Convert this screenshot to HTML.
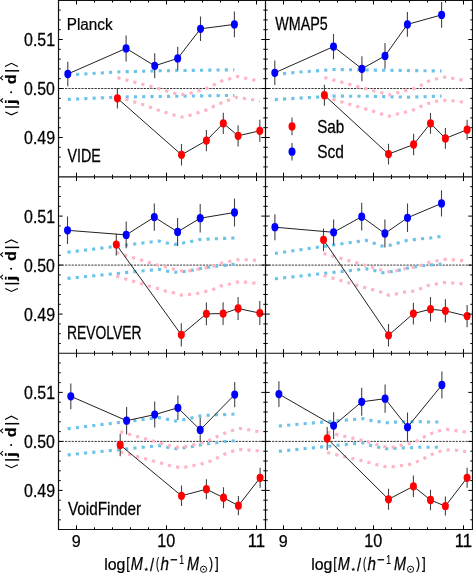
<!DOCTYPE html>
<html><head><meta charset="utf-8"><style>html,body{margin:0;padding:0;background:#fff;} svg{will-change:transform;}</style></head>
<body><svg width="473" height="574" viewBox="0 0 473 574" style="display:block"><rect width="473" height="574" fill="#fff"/><clipPath id="clip00"><rect x="58.5" y="0.3" width="207.0" height="176.54999999999998"/></clipPath><g clip-path="url(#clip00)"><line x1="58.5" y1="88.5" x2="265.5" y2="88.5" stroke="#111" stroke-width="0.85" stroke-dasharray="2.2 1.08"/><polyline points="67.80,75.00 120.00,71.80 160.00,70.80 234.40,69.80" fill="none" stroke="#6cc3ea" stroke-width="3.12" stroke-dasharray="3.12 5.15" stroke-linecap="butt" stroke-linejoin="round"/><polyline points="67.80,99.40 120.00,97.00 160.00,96.50 234.40,95.40" fill="none" stroke="#6cc3ea" stroke-width="3.12" stroke-dasharray="3.12 5.15" stroke-linecap="butt" stroke-linejoin="round"/><polyline points="117.40,77.60 142.50,84.30 158.60,88.50 174.20,93.20 182.30,94.50 190.30,93.20 206.60,88.50 221.40,81.10 237.30,76.50 252.70,79.70 259.80,81.30" fill="none" stroke="#ffb3c3" stroke-width="3.12" stroke-dasharray="3.12 5.15" stroke-linecap="butt" stroke-linejoin="round"/><polyline points="117.40,97.00 126.60,99.60 142.50,104.40 158.00,110.10 173.80,115.00 181.90,117.10 189.70,115.40 205.50,110.30 220.30,103.30 236.20,97.20 251.60,99.50 259.80,101.30" fill="none" stroke="#ffb3c3" stroke-width="3.12" stroke-dasharray="3.12 5.15" stroke-linecap="butt" stroke-linejoin="round"/><polyline points="117.40,98.30 181.50,154.80 206.40,140.60 223.30,123.30 238.10,135.80 259.80,130.80" fill="none" stroke="#222" stroke-width="1.0"/><line x1="117.4" y1="88.1" x2="117.4" y2="108.5" stroke="#444" stroke-width="1.1"/><line x1="181.5" y1="144.0" x2="181.5" y2="165.60000000000002" stroke="#444" stroke-width="1.1"/><line x1="206.4" y1="130.0" x2="206.4" y2="151.2" stroke="#444" stroke-width="1.1"/><line x1="223.3" y1="112.7" x2="223.3" y2="133.9" stroke="#444" stroke-width="1.1"/><line x1="238.1" y1="125.20000000000002" x2="238.1" y2="146.4" stroke="#444" stroke-width="1.1"/><line x1="259.8" y1="119.80000000000001" x2="259.8" y2="141.8" stroke="#444" stroke-width="1.1"/><polyline points="67.80,74.00 126.10,48.40 154.70,65.80 177.70,58.40 200.50,28.80 234.40,24.40" fill="none" stroke="#222" stroke-width="1.0"/><line x1="67.8" y1="61.8" x2="67.8" y2="86.2" stroke="#444" stroke-width="1.1"/><line x1="126.1" y1="35.4" x2="126.1" y2="61.4" stroke="#444" stroke-width="1.1"/><line x1="154.7" y1="53.3" x2="154.7" y2="78.3" stroke="#444" stroke-width="1.1"/><line x1="177.7" y1="46.7" x2="177.7" y2="70.1" stroke="#444" stroke-width="1.1"/><line x1="200.5" y1="16.5" x2="200.5" y2="41.1" stroke="#444" stroke-width="1.1"/><line x1="234.4" y1="11.599999999999998" x2="234.4" y2="37.2" stroke="#444" stroke-width="1.1"/><ellipse cx="117.4" cy="98.3" rx="3.5" ry="4.15" fill="#ff0000"/><ellipse cx="181.5" cy="154.8" rx="3.5" ry="4.15" fill="#ff0000"/><ellipse cx="206.4" cy="140.6" rx="3.5" ry="4.15" fill="#ff0000"/><ellipse cx="223.3" cy="123.3" rx="3.5" ry="4.15" fill="#ff0000"/><ellipse cx="238.1" cy="135.8" rx="3.5" ry="4.15" fill="#ff0000"/><ellipse cx="259.8" cy="130.8" rx="3.5" ry="4.15" fill="#ff0000"/><ellipse cx="67.8" cy="74.0" rx="3.5" ry="4.15" fill="#0000ff"/><ellipse cx="126.1" cy="48.4" rx="3.5" ry="4.15" fill="#0000ff"/><ellipse cx="154.7" cy="65.8" rx="3.5" ry="4.15" fill="#0000ff"/><ellipse cx="177.7" cy="58.4" rx="3.5" ry="4.15" fill="#0000ff"/><ellipse cx="200.5" cy="28.8" rx="3.5" ry="4.15" fill="#0000ff"/><ellipse cx="234.4" cy="24.4" rx="3.5" ry="4.15" fill="#0000ff"/></g><path d="M76.50,176.85v-4.2M76.50,0.3v4.2M94.50,176.85v-2.2M94.50,0.3v2.2M112.50,176.85v-2.2M112.50,0.3v2.2M130.50,176.85v-2.2M130.50,0.3v2.2M148.50,176.85v-2.2M148.50,0.3v2.2M166.50,176.85v-4.2M166.50,0.3v4.2M184.50,176.85v-2.2M184.50,0.3v2.2M202.50,176.85v-2.2M202.50,0.3v2.2M220.50,176.85v-2.2M220.50,0.3v2.2M238.50,176.85v-2.2M238.50,0.3v2.2M256.50,176.85v-4.2M256.50,0.3v4.2M58.5,10.10h2.2M265.5,10.10h-2.2M58.5,19.90h2.2M265.5,19.90h-2.2M58.5,29.70h2.2M265.5,29.70h-2.2M58.5,39.50h4.2M265.5,39.50h-4.2M58.5,49.30h2.2M265.5,49.30h-2.2M58.5,59.10h2.2M265.5,59.10h-2.2M58.5,68.90h2.2M265.5,68.90h-2.2M58.5,78.70h2.2M265.5,78.70h-2.2M58.5,88.50h4.2M265.5,88.50h-4.2M58.5,98.30h2.2M265.5,98.30h-2.2M58.5,108.10h2.2M265.5,108.10h-2.2M58.5,117.90h2.2M265.5,117.90h-2.2M58.5,127.70h2.2M265.5,127.70h-2.2M58.5,137.50h4.2M265.5,137.50h-4.2M58.5,147.30h2.2M265.5,147.30h-2.2M58.5,157.10h2.2M265.5,157.10h-2.2M58.5,166.90h2.2M265.5,166.90h-2.2" stroke="#000" stroke-width="1.0" fill="none"/><clipPath id="clip01"><rect x="265.5" y="0.3" width="207.0" height="176.54999999999998"/></clipPath><g clip-path="url(#clip01)"><line x1="265.5" y1="88.5" x2="472.5" y2="88.5" stroke="#111" stroke-width="0.85" stroke-dasharray="2.2 1.08"/><polyline points="274.80,74.50 300.00,72.00 334.00,69.50 368.00,70.00 441.60,71.00" fill="none" stroke="#6cc3ea" stroke-width="3.12" stroke-dasharray="3.12 5.15" stroke-linecap="butt" stroke-linejoin="round"/><polyline points="274.80,99.60 333.20,96.10 368.30,96.30 408.40,97.20 441.60,96.10" fill="none" stroke="#6cc3ea" stroke-width="3.12" stroke-dasharray="3.12 5.15" stroke-linecap="butt" stroke-linejoin="round"/><polyline points="324.40,77.50 366.10,88.80 373.70,90.80 381.40,92.70 389.70,95.00 397.60,92.70 405.60,90.80 413.40,88.80 420.90,85.30 428.50,81.30 436.20,79.00 444.50,77.10 452.40,78.30 460.40,79.70 467.10,81.00" fill="none" stroke="#ffb3c3" stroke-width="3.12" stroke-dasharray="3.12 5.15" stroke-linecap="butt" stroke-linejoin="round"/><polyline points="324.40,97.50 333.60,99.60 366.10,109.10 373.70,111.40 381.40,113.90 389.00,116.20 397.60,113.90 405.60,112.10 413.40,109.80 420.90,106.40 428.50,103.40 436.20,101.30 444.50,100.20 452.40,100.70 460.40,101.80 467.10,102.50" fill="none" stroke="#ffb3c3" stroke-width="3.12" stroke-dasharray="3.12 5.15" stroke-linecap="butt" stroke-linejoin="round"/><polyline points="324.40,95.20 388.50,154.10 413.60,144.50 430.50,123.30 445.40,138.40 467.10,129.70" fill="none" stroke="#222" stroke-width="1.0"/><line x1="324.4" y1="84.7" x2="324.4" y2="105.7" stroke="#444" stroke-width="1.1"/><line x1="388.5" y1="143.79999999999998" x2="388.5" y2="164.4" stroke="#444" stroke-width="1.1"/><line x1="413.6" y1="133.8" x2="413.6" y2="155.2" stroke="#444" stroke-width="1.1"/><line x1="430.5" y1="112.89999999999999" x2="430.5" y2="133.7" stroke="#444" stroke-width="1.1"/><line x1="445.4" y1="128.1" x2="445.4" y2="148.70000000000002" stroke="#444" stroke-width="1.1"/><line x1="467.1" y1="119.69999999999999" x2="467.1" y2="139.7" stroke="#444" stroke-width="1.1"/><polyline points="274.80,72.80 333.50,46.60 361.90,68.80 385.00,55.90 407.40,24.40 441.60,14.90" fill="none" stroke="#222" stroke-width="1.0"/><line x1="274.8" y1="60.5" x2="274.8" y2="85.1" stroke="#444" stroke-width="1.1"/><line x1="333.5" y1="34.0" x2="333.5" y2="59.2" stroke="#444" stroke-width="1.1"/><line x1="361.9" y1="56.3" x2="361.9" y2="81.3" stroke="#444" stroke-width="1.1"/><line x1="385.0" y1="43.099999999999994" x2="385.0" y2="68.7" stroke="#444" stroke-width="1.1"/><line x1="407.4" y1="11.999999999999998" x2="407.4" y2="36.8" stroke="#444" stroke-width="1.1"/><line x1="441.6" y1="2.0" x2="441.6" y2="27.8" stroke="#444" stroke-width="1.1"/><ellipse cx="324.4" cy="95.2" rx="3.5" ry="4.15" fill="#ff0000"/><ellipse cx="388.5" cy="154.1" rx="3.5" ry="4.15" fill="#ff0000"/><ellipse cx="413.6" cy="144.5" rx="3.5" ry="4.15" fill="#ff0000"/><ellipse cx="430.5" cy="123.3" rx="3.5" ry="4.15" fill="#ff0000"/><ellipse cx="445.4" cy="138.4" rx="3.5" ry="4.15" fill="#ff0000"/><ellipse cx="467.1" cy="129.7" rx="3.5" ry="4.15" fill="#ff0000"/><ellipse cx="274.8" cy="72.8" rx="3.5" ry="4.15" fill="#0000ff"/><ellipse cx="333.5" cy="46.6" rx="3.5" ry="4.15" fill="#0000ff"/><ellipse cx="361.9" cy="68.8" rx="3.5" ry="4.15" fill="#0000ff"/><ellipse cx="385.0" cy="55.9" rx="3.5" ry="4.15" fill="#0000ff"/><ellipse cx="407.4" cy="24.4" rx="3.5" ry="4.15" fill="#0000ff"/><ellipse cx="441.6" cy="14.9" rx="3.5" ry="4.15" fill="#0000ff"/></g><path d="M283.50,176.85v-4.2M283.50,0.3v4.2M301.50,176.85v-2.2M301.50,0.3v2.2M319.50,176.85v-2.2M319.50,0.3v2.2M337.50,176.85v-2.2M337.50,0.3v2.2M355.50,176.85v-2.2M355.50,0.3v2.2M373.50,176.85v-4.2M373.50,0.3v4.2M391.50,176.85v-2.2M391.50,0.3v2.2M409.50,176.85v-2.2M409.50,0.3v2.2M427.50,176.85v-2.2M427.50,0.3v2.2M445.50,176.85v-2.2M445.50,0.3v2.2M463.50,176.85v-4.2M463.50,0.3v4.2M265.5,10.10h2.2M472.5,10.10h-2.2M265.5,19.90h2.2M472.5,19.90h-2.2M265.5,29.70h2.2M472.5,29.70h-2.2M265.5,39.50h4.2M472.5,39.50h-4.2M265.5,49.30h2.2M472.5,49.30h-2.2M265.5,59.10h2.2M472.5,59.10h-2.2M265.5,68.90h2.2M472.5,68.90h-2.2M265.5,78.70h2.2M472.5,78.70h-2.2M265.5,88.50h4.2M472.5,88.50h-4.2M265.5,98.30h2.2M472.5,98.30h-2.2M265.5,108.10h2.2M472.5,108.10h-2.2M265.5,117.90h2.2M472.5,117.90h-2.2M265.5,127.70h2.2M472.5,127.70h-2.2M265.5,137.50h4.2M472.5,137.50h-4.2M265.5,147.30h2.2M472.5,147.30h-2.2M265.5,157.10h2.2M472.5,157.10h-2.2M265.5,166.90h2.2M472.5,166.90h-2.2" stroke="#000" stroke-width="1.0" fill="none"/><clipPath id="clip10"><rect x="58.5" y="176.85" width="207.0" height="176.4"/></clipPath><g clip-path="url(#clip10)"><line x1="58.5" y1="265.1" x2="265.5" y2="265.1" stroke="#111" stroke-width="0.85" stroke-dasharray="2.2 1.08"/><polyline points="67.50,252.30 159.10,241.00 167.10,243.00 175.10,244.40 183.10,243.00 191.10,241.40 199.10,239.60 208.20,239.10 216.20,238.70 224.20,238.40 234.50,238.00" fill="none" stroke="#6cc3ea" stroke-width="3.12" stroke-dasharray="3.12 5.15" stroke-linecap="butt" stroke-linejoin="round"/><polyline points="67.50,278.40 159.10,269.30 167.10,271.10 175.10,272.20 183.10,271.60 191.10,270.40 199.10,268.80 208.20,267.20 216.20,266.10 224.20,265.40 234.50,264.20" fill="none" stroke="#6cc3ea" stroke-width="3.12" stroke-dasharray="3.12 5.15" stroke-linecap="butt" stroke-linejoin="round"/><polyline points="116.30,252.60 158.00,265.20 166.00,267.00 174.00,269.30 182.00,271.10 190.00,270.60 198.00,269.30 206.00,267.70 214.00,266.10 221.50,263.10 229.20,261.50 237.50,259.70 245.40,259.70 253.90,260.10 259.80,260.50" fill="none" stroke="#ffb3c3" stroke-width="3.12" stroke-dasharray="3.12 5.15" stroke-linecap="butt" stroke-linejoin="round"/><polyline points="116.30,276.20 157.00,288.30 166.00,291.20 173.50,292.80 181.30,295.10 189.50,294.40 197.30,293.50 205.50,291.60 213.30,289.40 220.80,285.90 228.80,284.30 236.80,282.10 245.40,282.10 253.90,283.00 259.80,283.50" fill="none" stroke="#ffb3c3" stroke-width="3.12" stroke-dasharray="3.12 5.15" stroke-linecap="butt" stroke-linejoin="round"/><polyline points="116.30,244.60 181.30,334.80 206.40,313.80 223.10,313.60 238.10,308.50 259.80,313.10" fill="none" stroke="#222" stroke-width="1.0"/><line x1="116.3" y1="233.79999999999998" x2="116.3" y2="255.4" stroke="#444" stroke-width="1.1"/><line x1="181.3" y1="323.2" x2="181.3" y2="346.40000000000003" stroke="#444" stroke-width="1.1"/><line x1="206.4" y1="302.40000000000003" x2="206.4" y2="325.2" stroke="#444" stroke-width="1.1"/><line x1="223.1" y1="302.20000000000005" x2="223.1" y2="325.0" stroke="#444" stroke-width="1.1"/><line x1="238.1" y1="296.9" x2="238.1" y2="320.1" stroke="#444" stroke-width="1.1"/><line x1="259.8" y1="301.1" x2="259.8" y2="325.1" stroke="#444" stroke-width="1.1"/><polyline points="67.50,230.30 126.20,234.90 154.30,217.10 177.60,231.90 200.20,218.20 234.50,212.50" fill="none" stroke="#222" stroke-width="1.0"/><line x1="67.5" y1="216.60000000000002" x2="67.5" y2="244.0" stroke="#444" stroke-width="1.1"/><line x1="126.2" y1="221.5" x2="126.2" y2="248.3" stroke="#444" stroke-width="1.1"/><line x1="154.3" y1="203.4" x2="154.3" y2="230.79999999999998" stroke="#444" stroke-width="1.1"/><line x1="177.6" y1="217.9" x2="177.6" y2="245.9" stroke="#444" stroke-width="1.1"/><line x1="200.2" y1="203.89999999999998" x2="200.2" y2="232.5" stroke="#444" stroke-width="1.1"/><line x1="234.5" y1="198.5" x2="234.5" y2="226.5" stroke="#444" stroke-width="1.1"/><ellipse cx="116.3" cy="244.6" rx="3.5" ry="4.15" fill="#ff0000"/><ellipse cx="181.3" cy="334.8" rx="3.5" ry="4.15" fill="#ff0000"/><ellipse cx="206.4" cy="313.8" rx="3.5" ry="4.15" fill="#ff0000"/><ellipse cx="223.1" cy="313.6" rx="3.5" ry="4.15" fill="#ff0000"/><ellipse cx="238.1" cy="308.5" rx="3.5" ry="4.15" fill="#ff0000"/><ellipse cx="259.8" cy="313.1" rx="3.5" ry="4.15" fill="#ff0000"/><ellipse cx="67.5" cy="230.3" rx="3.5" ry="4.15" fill="#0000ff"/><ellipse cx="126.2" cy="234.9" rx="3.5" ry="4.15" fill="#0000ff"/><ellipse cx="154.3" cy="217.1" rx="3.5" ry="4.15" fill="#0000ff"/><ellipse cx="177.6" cy="231.9" rx="3.5" ry="4.15" fill="#0000ff"/><ellipse cx="200.2" cy="218.2" rx="3.5" ry="4.15" fill="#0000ff"/><ellipse cx="234.5" cy="212.5" rx="3.5" ry="4.15" fill="#0000ff"/></g><path d="M76.50,353.25v-4.2M76.50,176.85v4.2M94.50,353.25v-2.2M94.50,176.85v2.2M112.50,353.25v-2.2M112.50,176.85v2.2M130.50,353.25v-2.2M130.50,176.85v2.2M148.50,353.25v-2.2M148.50,176.85v2.2M166.50,353.25v-4.2M166.50,176.85v4.2M184.50,353.25v-2.2M184.50,176.85v2.2M202.50,353.25v-2.2M202.50,176.85v2.2M220.50,353.25v-2.2M220.50,176.85v2.2M238.50,353.25v-2.2M238.50,176.85v2.2M256.50,353.25v-4.2M256.50,176.85v4.2M58.5,186.70h2.2M265.5,186.70h-2.2M58.5,196.50h2.2M265.5,196.50h-2.2M58.5,206.30h2.2M265.5,206.30h-2.2M58.5,216.10h4.2M265.5,216.10h-4.2M58.5,225.90h2.2M265.5,225.90h-2.2M58.5,235.70h2.2M265.5,235.70h-2.2M58.5,245.50h2.2M265.5,245.50h-2.2M58.5,255.30h2.2M265.5,255.30h-2.2M58.5,265.10h4.2M265.5,265.10h-4.2M58.5,274.90h2.2M265.5,274.90h-2.2M58.5,284.70h2.2M265.5,284.70h-2.2M58.5,294.50h2.2M265.5,294.50h-2.2M58.5,304.30h2.2M265.5,304.30h-2.2M58.5,314.10h4.2M265.5,314.10h-4.2M58.5,323.90h2.2M265.5,323.90h-2.2M58.5,333.70h2.2M265.5,333.70h-2.2M58.5,343.50h2.2M265.5,343.50h-2.2" stroke="#000" stroke-width="1.0" fill="none"/><clipPath id="clip11"><rect x="265.5" y="176.85" width="207.0" height="176.4"/></clipPath><g clip-path="url(#clip11)"><line x1="265.5" y1="265.1" x2="472.5" y2="265.1" stroke="#111" stroke-width="0.85" stroke-dasharray="2.2 1.08"/><polyline points="274.90,253.40 366.10,240.30 374.10,243.20 381.40,246.00 389.00,245.50 397.00,243.20 405.60,240.70 413.40,239.60 421.60,238.70 430.10,238.00 438.10,236.80 441.50,236.50" fill="none" stroke="#6cc3ea" stroke-width="3.12" stroke-dasharray="3.12 5.15" stroke-linecap="butt" stroke-linejoin="round"/><polyline points="274.90,278.80 366.10,268.80 374.10,270.40 382.10,272.70 390.10,271.80 398.10,270.40 406.10,268.40 414.10,267.00 422.10,265.80 431.20,264.90 441.50,264.00" fill="none" stroke="#6cc3ea" stroke-width="3.12" stroke-dasharray="3.12 5.15" stroke-linecap="butt" stroke-linejoin="round"/><polyline points="323.50,253.50 365.00,265.20 373.00,267.70 381.00,270.00 389.00,271.80 397.00,270.60 405.00,268.80 413.00,267.20 421.00,265.40 428.90,262.40 436.90,260.80 444.50,259.20 452.40,259.70 460.90,260.40 467.10,261.00" fill="none" stroke="#ffb3c3" stroke-width="3.12" stroke-dasharray="3.12 5.15" stroke-linecap="butt" stroke-linejoin="round"/><polyline points="323.50,275.50 365.00,287.60 373.00,289.80 381.00,292.10 388.30,295.10 396.50,293.90 404.30,292.10 412.50,291.20 420.30,288.70 427.80,285.50 435.80,284.10 443.80,282.50 452.40,283.00 460.90,283.70 467.10,284.20" fill="none" stroke="#ffb3c3" stroke-width="3.12" stroke-dasharray="3.12 5.15" stroke-linecap="butt" stroke-linejoin="round"/><polyline points="323.50,239.80 388.50,335.30 413.40,313.60 430.50,309.20 445.40,310.80 467.10,316.10" fill="none" stroke="#222" stroke-width="1.0"/><line x1="323.5" y1="228.4" x2="323.5" y2="251.20000000000002" stroke="#444" stroke-width="1.1"/><line x1="388.5" y1="324.1" x2="388.5" y2="346.5" stroke="#444" stroke-width="1.1"/><line x1="413.4" y1="302.70000000000005" x2="413.4" y2="324.5" stroke="#444" stroke-width="1.1"/><line x1="430.5" y1="296.9" x2="430.5" y2="321.5" stroke="#444" stroke-width="1.1"/><line x1="445.4" y1="299.2" x2="445.4" y2="322.40000000000003" stroke="#444" stroke-width="1.1"/><line x1="467.1" y1="304.90000000000003" x2="467.1" y2="327.3" stroke="#444" stroke-width="1.1"/><polyline points="274.90,227.20 333.60,232.30 361.70,216.70 384.90,233.50 407.50,217.80 441.50,203.40" fill="none" stroke="#222" stroke-width="1.0"/><line x1="274.9" y1="214.2" x2="274.9" y2="240.2" stroke="#444" stroke-width="1.1"/><line x1="333.6" y1="219.60000000000002" x2="333.6" y2="245.0" stroke="#444" stroke-width="1.1"/><line x1="361.7" y1="202.79999999999998" x2="361.7" y2="230.6" stroke="#444" stroke-width="1.1"/><line x1="384.9" y1="219.6" x2="384.9" y2="247.4" stroke="#444" stroke-width="1.1"/><line x1="407.5" y1="203.60000000000002" x2="407.5" y2="232.0" stroke="#444" stroke-width="1.1"/><line x1="441.5" y1="190.20000000000002" x2="441.5" y2="216.6" stroke="#444" stroke-width="1.1"/><ellipse cx="323.5" cy="239.8" rx="3.5" ry="4.15" fill="#ff0000"/><ellipse cx="388.5" cy="335.3" rx="3.5" ry="4.15" fill="#ff0000"/><ellipse cx="413.4" cy="313.6" rx="3.5" ry="4.15" fill="#ff0000"/><ellipse cx="430.5" cy="309.2" rx="3.5" ry="4.15" fill="#ff0000"/><ellipse cx="445.4" cy="310.8" rx="3.5" ry="4.15" fill="#ff0000"/><ellipse cx="467.1" cy="316.1" rx="3.5" ry="4.15" fill="#ff0000"/><ellipse cx="274.9" cy="227.2" rx="3.5" ry="4.15" fill="#0000ff"/><ellipse cx="333.6" cy="232.3" rx="3.5" ry="4.15" fill="#0000ff"/><ellipse cx="361.7" cy="216.7" rx="3.5" ry="4.15" fill="#0000ff"/><ellipse cx="384.9" cy="233.5" rx="3.5" ry="4.15" fill="#0000ff"/><ellipse cx="407.5" cy="217.8" rx="3.5" ry="4.15" fill="#0000ff"/><ellipse cx="441.5" cy="203.4" rx="3.5" ry="4.15" fill="#0000ff"/></g><path d="M283.50,353.25v-4.2M283.50,176.85v4.2M301.50,353.25v-2.2M301.50,176.85v2.2M319.50,353.25v-2.2M319.50,176.85v2.2M337.50,353.25v-2.2M337.50,176.85v2.2M355.50,353.25v-2.2M355.50,176.85v2.2M373.50,353.25v-4.2M373.50,176.85v4.2M391.50,353.25v-2.2M391.50,176.85v2.2M409.50,353.25v-2.2M409.50,176.85v2.2M427.50,353.25v-2.2M427.50,176.85v2.2M445.50,353.25v-2.2M445.50,176.85v2.2M463.50,353.25v-4.2M463.50,176.85v4.2M265.5,186.70h2.2M472.5,186.70h-2.2M265.5,196.50h2.2M472.5,196.50h-2.2M265.5,206.30h2.2M472.5,206.30h-2.2M265.5,216.10h4.2M472.5,216.10h-4.2M265.5,225.90h2.2M472.5,225.90h-2.2M265.5,235.70h2.2M472.5,235.70h-2.2M265.5,245.50h2.2M472.5,245.50h-2.2M265.5,255.30h2.2M472.5,255.30h-2.2M265.5,265.10h4.2M472.5,265.10h-4.2M265.5,274.90h2.2M472.5,274.90h-2.2M265.5,284.70h2.2M472.5,284.70h-2.2M265.5,294.50h2.2M472.5,294.50h-2.2M265.5,304.30h2.2M472.5,304.30h-2.2M265.5,314.10h4.2M472.5,314.10h-4.2M265.5,323.90h2.2M472.5,323.90h-2.2M265.5,333.70h2.2M472.5,333.70h-2.2M265.5,343.50h2.2M472.5,343.50h-2.2" stroke="#000" stroke-width="1.0" fill="none"/><clipPath id="clip20"><rect x="58.5" y="353.25" width="207.0" height="176.25"/></clipPath><g clip-path="url(#clip20)"><line x1="58.5" y1="441.4" x2="265.5" y2="441.4" stroke="#111" stroke-width="0.85" stroke-dasharray="2.2 1.08"/><polyline points="67.60,428.80 159.10,417.60 167.10,419.20 175.10,421.00 183.10,419.80 191.10,418.00 199.60,416.00 207.80,415.30 216.20,414.80 224.20,414.60 234.70,414.00" fill="none" stroke="#6cc3ea" stroke-width="3.12" stroke-dasharray="3.12 5.15" stroke-linecap="butt" stroke-linejoin="round"/><polyline points="67.60,454.90 159.10,445.60 167.10,447.20 175.80,448.80 183.60,447.90 191.80,446.60 200.20,445.00 208.20,443.80 216.20,442.70 224.20,441.50 234.70,440.70" fill="none" stroke="#6cc3ea" stroke-width="3.12" stroke-dasharray="3.12 5.15" stroke-linecap="butt" stroke-linejoin="round"/><polyline points="120.20,431.70 159.10,442.70 168.30,445.60 177.40,447.20 185.40,446.60 193.40,445.00 201.40,443.40 208.70,440.40 216.20,437.00 224.20,433.50 232.20,430.60 240.20,428.50 248.20,429.70 256.60,431.30 260.10,432.00" fill="none" stroke="#ffb3c3" stroke-width="3.12" stroke-dasharray="3.12 5.15" stroke-linecap="butt" stroke-linejoin="round"/><polyline points="120.20,451.80 159.10,462.60 169.40,465.50 177.40,467.10 185.40,467.10 193.40,465.50 201.40,463.90 209.40,461.60 216.90,458.00 224.70,454.10 232.20,451.30 240.20,449.50 248.20,450.00 256.60,450.70 260.10,451.00" fill="none" stroke="#ffb3c3" stroke-width="3.12" stroke-dasharray="3.12 5.15" stroke-linecap="butt" stroke-linejoin="round"/><polyline points="120.20,445.00 181.50,495.80 206.40,489.20 223.50,497.70 238.40,505.70 260.10,477.80" fill="none" stroke="#222" stroke-width="1.0"/><line x1="120.2" y1="433.8" x2="120.2" y2="456.2" stroke="#444" stroke-width="1.1"/><line x1="181.5" y1="485.5" x2="181.5" y2="506.1" stroke="#444" stroke-width="1.1"/><line x1="206.4" y1="479.2" x2="206.4" y2="499.2" stroke="#444" stroke-width="1.1"/><line x1="223.5" y1="487.2" x2="223.5" y2="508.2" stroke="#444" stroke-width="1.1"/><line x1="238.4" y1="496.09999999999997" x2="238.4" y2="515.3" stroke="#444" stroke-width="1.1"/><line x1="260.1" y1="467.8" x2="260.1" y2="487.8" stroke="#444" stroke-width="1.1"/><polyline points="70.80,396.30 126.60,420.70 154.70,414.60 177.90,407.80 200.20,429.90 234.70,394.60" fill="none" stroke="#222" stroke-width="1.0"/><line x1="70.8" y1="383.40000000000003" x2="70.8" y2="409.2" stroke="#444" stroke-width="1.1"/><line x1="126.6" y1="407.0" x2="126.6" y2="434.4" stroke="#444" stroke-width="1.1"/><line x1="154.7" y1="401.6" x2="154.7" y2="427.6" stroke="#444" stroke-width="1.1"/><line x1="177.9" y1="395.5" x2="177.9" y2="420.1" stroke="#444" stroke-width="1.1"/><line x1="200.2" y1="417.5" x2="200.2" y2="442.29999999999995" stroke="#444" stroke-width="1.1"/><line x1="234.7" y1="382.0" x2="234.7" y2="407.20000000000005" stroke="#444" stroke-width="1.1"/><ellipse cx="120.2" cy="445.0" rx="3.5" ry="4.15" fill="#ff0000"/><ellipse cx="181.5" cy="495.8" rx="3.5" ry="4.15" fill="#ff0000"/><ellipse cx="206.4" cy="489.2" rx="3.5" ry="4.15" fill="#ff0000"/><ellipse cx="223.5" cy="497.7" rx="3.5" ry="4.15" fill="#ff0000"/><ellipse cx="238.4" cy="505.7" rx="3.5" ry="4.15" fill="#ff0000"/><ellipse cx="260.1" cy="477.8" rx="3.5" ry="4.15" fill="#ff0000"/><ellipse cx="70.8" cy="396.3" rx="3.5" ry="4.15" fill="#0000ff"/><ellipse cx="126.6" cy="420.7" rx="3.5" ry="4.15" fill="#0000ff"/><ellipse cx="154.7" cy="414.6" rx="3.5" ry="4.15" fill="#0000ff"/><ellipse cx="177.9" cy="407.8" rx="3.5" ry="4.15" fill="#0000ff"/><ellipse cx="200.2" cy="429.9" rx="3.5" ry="4.15" fill="#0000ff"/><ellipse cx="234.7" cy="394.6" rx="3.5" ry="4.15" fill="#0000ff"/></g><path d="M76.50,529.5v-4.2M76.50,353.25v4.2M94.50,529.5v-2.2M94.50,353.25v2.2M112.50,529.5v-2.2M112.50,353.25v2.2M130.50,529.5v-2.2M130.50,353.25v2.2M148.50,529.5v-2.2M148.50,353.25v2.2M166.50,529.5v-4.2M166.50,353.25v4.2M184.50,529.5v-2.2M184.50,353.25v2.2M202.50,529.5v-2.2M202.50,353.25v2.2M220.50,529.5v-2.2M220.50,353.25v2.2M238.50,529.5v-2.2M238.50,353.25v2.2M256.50,529.5v-4.2M256.50,353.25v4.2M58.5,363.00h2.2M265.5,363.00h-2.2M58.5,372.80h2.2M265.5,372.80h-2.2M58.5,382.60h2.2M265.5,382.60h-2.2M58.5,392.40h4.2M265.5,392.40h-4.2M58.5,402.20h2.2M265.5,402.20h-2.2M58.5,412.00h2.2M265.5,412.00h-2.2M58.5,421.80h2.2M265.5,421.80h-2.2M58.5,431.60h2.2M265.5,431.60h-2.2M58.5,441.40h4.2M265.5,441.40h-4.2M58.5,451.20h2.2M265.5,451.20h-2.2M58.5,461.00h2.2M265.5,461.00h-2.2M58.5,470.80h2.2M265.5,470.80h-2.2M58.5,480.60h2.2M265.5,480.60h-2.2M58.5,490.40h4.2M265.5,490.40h-4.2M58.5,500.20h2.2M265.5,500.20h-2.2M58.5,510.00h2.2M265.5,510.00h-2.2M58.5,519.80h2.2M265.5,519.80h-2.2" stroke="#000" stroke-width="1.0" fill="none"/><clipPath id="clip21"><rect x="265.5" y="353.25" width="207.0" height="176.25"/></clipPath><g clip-path="url(#clip21)"><line x1="265.5" y1="441.4" x2="472.5" y2="441.4" stroke="#111" stroke-width="0.85" stroke-dasharray="2.2 1.08"/><polyline points="278.90,426.00 362.80,418.60 370.70,420.40 378.70,421.60 386.70,422.80 394.70,422.10 403.40,421.80 411.80,421.70 419.80,421.60 428.50,422.00 441.90,422.00" fill="none" stroke="#6cc3ea" stroke-width="3.12" stroke-dasharray="3.12 5.15" stroke-linecap="butt" stroke-linejoin="round"/><polyline points="278.90,451.30 362.80,442.80 370.00,445.40 378.70,447.20 386.70,448.80 394.70,448.40 403.40,447.90 411.80,447.70 419.80,447.20 428.50,447.20 441.90,447.20" fill="none" stroke="#6cc3ea" stroke-width="3.12" stroke-dasharray="3.12 5.15" stroke-linecap="butt" stroke-linejoin="round"/><polyline points="327.20,432.30 366.10,441.30 376.40,444.50 384.40,446.60 392.40,447.20 400.40,445.40 408.80,443.80 416.40,441.10 423.90,437.00 431.20,433.50 439.20,430.80 447.20,429.40 455.20,430.60 463.60,431.70 467.10,432.20" fill="none" stroke="#ffb3c3" stroke-width="3.12" stroke-dasharray="3.12 5.15" stroke-linecap="butt" stroke-linejoin="round"/><polyline points="327.20,452.60 366.10,461.70 376.90,464.80 385.10,466.60 393.50,466.60 401.50,465.50 409.50,464.40 417.10,461.60 424.80,458.00 432.40,454.10 439.90,451.30 447.60,450.00 455.90,450.20 463.60,451.30 467.10,451.80" fill="none" stroke="#ffb3c3" stroke-width="3.12" stroke-dasharray="3.12 5.15" stroke-linecap="butt" stroke-linejoin="round"/><polyline points="327.20,438.50 388.50,499.30 413.40,486.30 430.50,500.00 445.40,506.10 467.10,477.80" fill="none" stroke="#222" stroke-width="1.0"/><line x1="327.2" y1="427.0" x2="327.2" y2="450.0" stroke="#444" stroke-width="1.1"/><line x1="388.5" y1="488.8" x2="388.5" y2="509.8" stroke="#444" stroke-width="1.1"/><line x1="413.4" y1="475.6" x2="413.4" y2="497.0" stroke="#444" stroke-width="1.1"/><line x1="430.5" y1="489.7" x2="430.5" y2="510.3" stroke="#444" stroke-width="1.1"/><line x1="445.4" y1="496.6" x2="445.4" y2="515.6" stroke="#444" stroke-width="1.1"/><line x1="467.1" y1="467.8" x2="467.1" y2="487.8" stroke="#444" stroke-width="1.1"/><polyline points="278.90,394.10 333.60,425.60 361.70,401.80 385.10,398.70 407.50,427.20 441.90,385.00" fill="none" stroke="#222" stroke-width="1.0"/><line x1="278.9" y1="381.20000000000005" x2="278.9" y2="407.0" stroke="#444" stroke-width="1.1"/><line x1="333.6" y1="412.20000000000005" x2="333.6" y2="439.0" stroke="#444" stroke-width="1.1"/><line x1="361.7" y1="387.8" x2="361.7" y2="415.8" stroke="#444" stroke-width="1.1"/><line x1="385.1" y1="384.59999999999997" x2="385.1" y2="412.8" stroke="#444" stroke-width="1.1"/><line x1="407.5" y1="412.59999999999997" x2="407.5" y2="441.8" stroke="#444" stroke-width="1.1"/><line x1="441.9" y1="371.5" x2="441.9" y2="398.5" stroke="#444" stroke-width="1.1"/><ellipse cx="327.2" cy="438.5" rx="3.5" ry="4.15" fill="#ff0000"/><ellipse cx="388.5" cy="499.3" rx="3.5" ry="4.15" fill="#ff0000"/><ellipse cx="413.4" cy="486.3" rx="3.5" ry="4.15" fill="#ff0000"/><ellipse cx="430.5" cy="500" rx="3.5" ry="4.15" fill="#ff0000"/><ellipse cx="445.4" cy="506.1" rx="3.5" ry="4.15" fill="#ff0000"/><ellipse cx="467.1" cy="477.8" rx="3.5" ry="4.15" fill="#ff0000"/><ellipse cx="278.9" cy="394.1" rx="3.5" ry="4.15" fill="#0000ff"/><ellipse cx="333.6" cy="425.6" rx="3.5" ry="4.15" fill="#0000ff"/><ellipse cx="361.7" cy="401.8" rx="3.5" ry="4.15" fill="#0000ff"/><ellipse cx="385.1" cy="398.7" rx="3.5" ry="4.15" fill="#0000ff"/><ellipse cx="407.5" cy="427.2" rx="3.5" ry="4.15" fill="#0000ff"/><ellipse cx="441.9" cy="385" rx="3.5" ry="4.15" fill="#0000ff"/></g><path d="M283.50,529.5v-4.2M283.50,353.25v4.2M301.50,529.5v-2.2M301.50,353.25v2.2M319.50,529.5v-2.2M319.50,353.25v2.2M337.50,529.5v-2.2M337.50,353.25v2.2M355.50,529.5v-2.2M355.50,353.25v2.2M373.50,529.5v-4.2M373.50,353.25v4.2M391.50,529.5v-2.2M391.50,353.25v2.2M409.50,529.5v-2.2M409.50,353.25v2.2M427.50,529.5v-2.2M427.50,353.25v2.2M445.50,529.5v-2.2M445.50,353.25v2.2M463.50,529.5v-4.2M463.50,353.25v4.2M265.5,363.00h2.2M472.5,363.00h-2.2M265.5,372.80h2.2M472.5,372.80h-2.2M265.5,382.60h2.2M472.5,382.60h-2.2M265.5,392.40h4.2M472.5,392.40h-4.2M265.5,402.20h2.2M472.5,402.20h-2.2M265.5,412.00h2.2M472.5,412.00h-2.2M265.5,421.80h2.2M472.5,421.80h-2.2M265.5,431.60h2.2M472.5,431.60h-2.2M265.5,441.40h4.2M472.5,441.40h-4.2M265.5,451.20h2.2M472.5,451.20h-2.2M265.5,461.00h2.2M472.5,461.00h-2.2M265.5,470.80h2.2M472.5,470.80h-2.2M265.5,480.60h2.2M472.5,480.60h-2.2M265.5,490.40h4.2M472.5,490.40h-4.2M265.5,500.20h2.2M472.5,500.20h-2.2M265.5,510.00h2.2M472.5,510.00h-2.2M265.5,519.80h2.2M472.5,519.80h-2.2" stroke="#000" stroke-width="1.0" fill="none"/><path d="M58.5,0.3H472.5M58.5,176.85H472.5M58.5,353.25H472.5M58.5,529.5H472.5M58.5,0.3V529.5M265.5,0.3V529.5M472.5,0.3V529.5" stroke="#111" stroke-width="1.2" fill="none" stroke-linecap="square"/><line x1="292.0" y1="117.60000000000001" x2="292.0" y2="135.20000000000002" stroke="#444" stroke-width="1.1"/><ellipse cx="292.0" cy="126.4" rx="3.5" ry="4.15" fill="#ff0000"/><line x1="292.0" y1="142.89999999999998" x2="292.0" y2="160.5" stroke="#444" stroke-width="1.1"/><ellipse cx="292.0" cy="151.7" rx="3.5" ry="4.15" fill="#0000ff"/><g transform="matrix(0.8741,0,0,0.9846,66.707,29.954)"><text x="0" y="0" font-family="'Liberation Sans', sans-serif" font-size="17.5" font-weight="normal" font-style="normal" fill="#000" stroke="#000" stroke-width="0.25">Planck</text></g><g transform="matrix(0.8189,0,0,1.0800,275.200,30.030)"><text x="0" y="0" font-family="'Liberation Sans', sans-serif" font-size="17.5" font-weight="normal" font-style="normal" fill="#000" stroke="#000" stroke-width="0.25">WMAP5</text></g><g transform="matrix(0.8149,0,0,1.0367,67.500,162.300)"><text x="0" y="0" font-family="'Liberation Sans', sans-serif" font-size="17.5" font-weight="normal" font-style="normal" fill="#000" stroke="#000" stroke-width="0.25">VIDE</text></g><g transform="matrix(0.7957,0,0,1.0353,66.905,338.641)"><text x="0" y="0" font-family="'Liberation Sans', sans-serif" font-size="17.5" font-weight="normal" font-style="normal" fill="#000" stroke="#000" stroke-width="0.25">REVOLVER</text></g><g transform="matrix(0.8766,0,0,1.0154,67.900,515.146)"><text x="0" y="0" font-family="'Liberation Sans', sans-serif" font-size="17.5" font-weight="normal" font-style="normal" fill="#000" stroke="#000" stroke-width="0.25">VoidFinder</text></g><g transform="matrix(0.8706,0,0,1.0538,317.147,132.737)"><text x="0" y="0" font-family="'Liberation Sans', sans-serif" font-size="17.5" font-weight="normal" font-style="normal" fill="#000" stroke="#000" stroke-width="0.25">Sab</text></g><g transform="matrix(0.8877,0,0,1.0154,317.134,157.546)"><text x="0" y="0" font-family="'Liberation Sans', sans-serif" font-size="17.5" font-weight="normal" font-style="normal" fill="#000" stroke="#000" stroke-width="0.25">Scd</text></g><g transform="matrix(0.9130,0,0,1.0039,24.044,46.149)"><text x="0" y="0" font-family="'Liberation Sans', sans-serif" font-size="17.5" font-weight="normal" font-style="normal" fill="#000" stroke="#000" stroke-width="0.25">0.51</text></g><g transform="matrix(0.9061,0,0,1.0039,24.047,95.149)"><text x="0" y="0" font-family="'Liberation Sans', sans-serif" font-size="17.5" font-weight="normal" font-style="normal" fill="#000" stroke="#000" stroke-width="0.25">0.50</text></g><g transform="matrix(0.9130,0,0,1.0039,24.044,144.149)"><text x="0" y="0" font-family="'Liberation Sans', sans-serif" font-size="17.5" font-weight="normal" font-style="normal" fill="#000" stroke="#000" stroke-width="0.25">0.49</text></g><g transform="matrix(0.9130,0,0,1.0039,24.044,222.749)"><text x="0" y="0" font-family="'Liberation Sans', sans-serif" font-size="17.5" font-weight="normal" font-style="normal" fill="#000" stroke="#000" stroke-width="0.25">0.51</text></g><g transform="matrix(0.9061,0,0,1.0039,24.047,271.749)"><text x="0" y="0" font-family="'Liberation Sans', sans-serif" font-size="17.5" font-weight="normal" font-style="normal" fill="#000" stroke="#000" stroke-width="0.25">0.50</text></g><g transform="matrix(0.9130,0,0,1.0039,24.044,320.749)"><text x="0" y="0" font-family="'Liberation Sans', sans-serif" font-size="17.5" font-weight="normal" font-style="normal" fill="#000" stroke="#000" stroke-width="0.25">0.49</text></g><g transform="matrix(0.9130,0,0,1.0039,24.044,399.049)"><text x="0" y="0" font-family="'Liberation Sans', sans-serif" font-size="17.5" font-weight="normal" font-style="normal" fill="#000" stroke="#000" stroke-width="0.25">0.51</text></g><g transform="matrix(0.9061,0,0,1.0039,24.047,448.049)"><text x="0" y="0" font-family="'Liberation Sans', sans-serif" font-size="17.5" font-weight="normal" font-style="normal" fill="#000" stroke="#000" stroke-width="0.25">0.50</text></g><g transform="matrix(0.9130,0,0,1.0039,24.044,497.049)"><text x="0" y="0" font-family="'Liberation Sans', sans-serif" font-size="17.5" font-weight="normal" font-style="normal" fill="#000" stroke="#000" stroke-width="0.25">0.49</text></g><g transform="matrix(0.9212,0,0,0.9961,71.709,546.851)"><text x="0" y="0" font-family="'Liberation Sans', sans-serif" font-size="17.5" font-weight="normal" font-style="normal" fill="#000" stroke="#000" stroke-width="0.25">9</text></g><g transform="matrix(0.9239,0,0,1.0039,157.345,546.849)"><text x="0" y="0" font-family="'Liberation Sans', sans-serif" font-size="17.5" font-weight="normal" font-style="normal" fill="#000" stroke="#000" stroke-width="0.25">10</text></g><g transform="matrix(0.9600,0,0,1.0531,247.700,547.200)"><text x="0" y="0" font-family="'Liberation Sans', sans-serif" font-size="17.5" font-weight="normal" font-style="normal" fill="#000" stroke="#000" stroke-width="0.25">11</text></g><g transform="matrix(0.9212,0,0,0.9961,278.709,546.851)"><text x="0" y="0" font-family="'Liberation Sans', sans-serif" font-size="17.5" font-weight="normal" font-style="normal" fill="#000" stroke="#000" stroke-width="0.25">9</text></g><g transform="matrix(0.9239,0,0,1.0039,364.345,546.849)"><text x="0" y="0" font-family="'Liberation Sans', sans-serif" font-size="17.5" font-weight="normal" font-style="normal" fill="#000" stroke="#000" stroke-width="0.25">10</text></g><g transform="matrix(0.9600,0,0,1.0531,454.700,547.200)"><text x="0" y="0" font-family="'Liberation Sans', sans-serif" font-size="17.5" font-weight="normal" font-style="normal" fill="#000" stroke="#000" stroke-width="0.25">11</text></g><g transform="matrix(0.9082,0,0,0.9818,104.192,569.918)"><text x="0" y="0" font-family="'Liberation Sans', sans-serif" font-size="17.5" font-weight="normal" font-style="normal" fill="#000" stroke="#000" stroke-width="0.25">log</text></g><g transform="matrix(0.7200,0,0,0.9455,126.280,568.955)"><text x="0" y="0" font-family="'Liberation Sans', sans-serif" font-size="17.5" font-weight="normal" font-style="normal" fill="#000" stroke="#000" stroke-width="0.25">[</text></g><g transform="matrix(0.8281,0,0,0.9959,130.786,570.300)"><text x="0" y="0" font-family="'Liberation Sans', sans-serif" font-size="17.5" font-weight="normal" font-style="italic" fill="#000" stroke="#000" stroke-width="0.25">M</text></g><g transform="matrix(0.8400,0,0,1.0538,150.100,571.337)"><text x="0" y="0" font-family="'Liberation Sans', sans-serif" font-size="17.5" font-weight="normal" font-style="normal" fill="#000" stroke="#000" stroke-width="0.25">/</text></g><g transform="matrix(0.5474,0,0,0.9273,156.053,569.123)"><text x="0" y="0" font-family="'Liberation Sans', sans-serif" font-size="17.5" font-weight="normal" font-style="normal" fill="#000" stroke="#000" stroke-width="0.25">(</text></g><g transform="matrix(0.8686,0,0,1.0196,160.583,570.200)"><text x="0" y="0" font-family="'Liberation Sans', sans-serif" font-size="17.5" font-weight="normal" font-style="italic" fill="#000" stroke="#000" stroke-width="0.25">h</text></g><g transform="matrix(0.4903,0,0,0.7102,179.187,563.700)"><text x="0" y="0" font-family="'Liberation Sans', sans-serif" font-size="17.5" font-weight="normal" font-style="normal" fill="#000" stroke="#000" stroke-width="0.25">1</text></g><g transform="matrix(0.8281,0,0,1.0041,187.086,570.300)"><text x="0" y="0" font-family="'Liberation Sans', sans-serif" font-size="17.5" font-weight="normal" font-style="italic" fill="#000" stroke="#000" stroke-width="0.25">M</text></g><g transform="matrix(0.6947,0,0,0.9212,209.100,569.345)"><text x="0" y="0" font-family="'Liberation Sans', sans-serif" font-size="17.5" font-weight="normal" font-style="normal" fill="#000" stroke="#000" stroke-width="0.25">)</text></g><g transform="matrix(0.7733,0,0,0.8970,215.000,569.036)"><text x="0" y="0" font-family="'Liberation Sans', sans-serif" font-size="17.5" font-weight="normal" font-style="normal" fill="#000" stroke="#000" stroke-width="0.25">]</text></g><g transform="matrix(0.9082,0,0,0.9818,311.192,569.918)"><text x="0" y="0" font-family="'Liberation Sans', sans-serif" font-size="17.5" font-weight="normal" font-style="normal" fill="#000" stroke="#000" stroke-width="0.25">log</text></g><g transform="matrix(0.7200,0,0,0.9455,333.280,568.955)"><text x="0" y="0" font-family="'Liberation Sans', sans-serif" font-size="17.5" font-weight="normal" font-style="normal" fill="#000" stroke="#000" stroke-width="0.25">[</text></g><g transform="matrix(0.8281,0,0,0.9959,337.786,570.300)"><text x="0" y="0" font-family="'Liberation Sans', sans-serif" font-size="17.5" font-weight="normal" font-style="italic" fill="#000" stroke="#000" stroke-width="0.25">M</text></g><g transform="matrix(0.8400,0,0,1.0538,357.100,571.337)"><text x="0" y="0" font-family="'Liberation Sans', sans-serif" font-size="17.5" font-weight="normal" font-style="normal" fill="#000" stroke="#000" stroke-width="0.25">/</text></g><g transform="matrix(0.5474,0,0,0.9273,363.053,569.123)"><text x="0" y="0" font-family="'Liberation Sans', sans-serif" font-size="17.5" font-weight="normal" font-style="normal" fill="#000" stroke="#000" stroke-width="0.25">(</text></g><g transform="matrix(0.8686,0,0,1.0196,367.583,570.200)"><text x="0" y="0" font-family="'Liberation Sans', sans-serif" font-size="17.5" font-weight="normal" font-style="italic" fill="#000" stroke="#000" stroke-width="0.25">h</text></g><g transform="matrix(0.4903,0,0,0.7102,386.187,563.700)"><text x="0" y="0" font-family="'Liberation Sans', sans-serif" font-size="17.5" font-weight="normal" font-style="normal" fill="#000" stroke="#000" stroke-width="0.25">1</text></g><g transform="matrix(0.8281,0,0,1.0041,394.086,570.300)"><text x="0" y="0" font-family="'Liberation Sans', sans-serif" font-size="17.5" font-weight="normal" font-style="italic" fill="#000" stroke="#000" stroke-width="0.25">M</text></g><g transform="matrix(0.6947,0,0,0.9212,416.100,569.345)"><text x="0" y="0" font-family="'Liberation Sans', sans-serif" font-size="17.5" font-weight="normal" font-style="normal" fill="#000" stroke="#000" stroke-width="0.25">)</text></g><g transform="matrix(0.7733,0,0,0.8970,422.000,569.036)"><text x="0" y="0" font-family="'Liberation Sans', sans-serif" font-size="17.5" font-weight="normal" font-style="normal" fill="#000" stroke="#000" stroke-width="0.25">]</text></g><g transform="matrix(0.8385,0,0,0.9297,15.990,84.365)"><g transform="rotate(-90)"><text x="0" y="0" font-family="'Liberation Sans', sans-serif" font-size="17.5" font-weight="bold" font-style="normal" fill="#000" stroke="#000" stroke-width="0.25">d</text></g></g><g transform="matrix(0.8242,0,0,1.0500,15.809,104.138)"><g transform="rotate(-90)"><text x="0" y="0" font-family="'Liberation Sans', sans-serif" font-size="17.5" font-weight="bold" font-style="normal" fill="#000" stroke="#000" stroke-width="0.25">j</text></g></g><g transform="matrix(0.8385,0,0,0.9297,15.990,260.965)"><g transform="rotate(-90)"><text x="0" y="0" font-family="'Liberation Sans', sans-serif" font-size="17.5" font-weight="bold" font-style="normal" fill="#000" stroke="#000" stroke-width="0.25">d</text></g></g><g transform="matrix(0.8242,0,0,1.0500,15.809,280.738)"><g transform="rotate(-90)"><text x="0" y="0" font-family="'Liberation Sans', sans-serif" font-size="17.5" font-weight="bold" font-style="normal" fill="#000" stroke="#000" stroke-width="0.25">j</text></g></g><g transform="matrix(0.8385,0,0,0.9297,15.990,437.265)"><g transform="rotate(-90)"><text x="0" y="0" font-family="'Liberation Sans', sans-serif" font-size="17.5" font-weight="bold" font-style="normal" fill="#000" stroke="#000" stroke-width="0.25">d</text></g></g><g transform="matrix(0.8242,0,0,1.0500,15.809,457.037)"><g transform="rotate(-90)"><text x="0" y="0" font-family="'Liberation Sans', sans-serif" font-size="17.5" font-weight="bold" font-style="normal" fill="#000" stroke="#000" stroke-width="0.25">j</text></g></g><rect x="170.6" y="559.1" width="6.5" height="1.35" fill="#000"/><polygon points="146.25,567.30 146.78,568.67 148.25,568.75 147.11,569.68 147.48,571.10 146.25,570.30 145.02,571.10 145.39,569.68 144.25,568.75 145.72,568.67" fill="#000"/><circle cx="203.55" cy="569.25" r="3.1" fill="none" stroke="#000" stroke-width="0.95"/><circle cx="203.55" cy="569.25" r="0.85" fill="#000"/><rect x="377.6" y="559.1" width="6.5" height="1.35" fill="#000"/><polygon points="353.25,567.30 353.78,568.67 355.25,568.75 354.11,569.68 354.48,571.10 353.25,570.30 352.02,571.10 352.39,569.68 351.25,568.75 352.72,568.67" fill="#000"/><circle cx="410.55" cy="569.25" r="3.1" fill="none" stroke="#000" stroke-width="0.95"/><circle cx="410.55" cy="569.25" r="0.85" fill="#000"/><g transform="translate(0,0.00)"><polyline points="5.0,66.5 11.4,63.3 17.8,66.5" fill="none" stroke="#000" stroke-width="1.1"/><rect x="5.0" y="70.05" width="14.2" height="1.5" fill="#000"/><polyline points="3.0,75.7 0.5,77.9 3.0,80.2" fill="none" stroke="#000" stroke-width="1.05"/><circle cx="11.1" cy="92.2" r="1.0" fill="#000"/><polyline points="3.0,98.3 0.5,100.5 3.0,102.7" fill="none" stroke="#000" stroke-width="1.05"/><rect x="5.0" y="106.25" width="14.2" height="1.5" fill="#000"/><polyline points="5.3,111.9 11.4,114.8 17.8,111.9" fill="none" stroke="#000" stroke-width="1.1"/></g><g transform="translate(0,176.60)"><polyline points="5.0,66.5 11.4,63.3 17.8,66.5" fill="none" stroke="#000" stroke-width="1.1"/><rect x="5.0" y="70.05" width="14.2" height="1.5" fill="#000"/><polyline points="3.0,75.7 0.5,77.9 3.0,80.2" fill="none" stroke="#000" stroke-width="1.05"/><circle cx="11.1" cy="92.2" r="1.0" fill="#000"/><polyline points="3.0,98.3 0.5,100.5 3.0,102.7" fill="none" stroke="#000" stroke-width="1.05"/><rect x="5.0" y="106.25" width="14.2" height="1.5" fill="#000"/><polyline points="5.3,111.9 11.4,114.8 17.8,111.9" fill="none" stroke="#000" stroke-width="1.1"/></g><g transform="translate(0,352.90)"><polyline points="5.0,66.5 11.4,63.3 17.8,66.5" fill="none" stroke="#000" stroke-width="1.1"/><rect x="5.0" y="70.05" width="14.2" height="1.5" fill="#000"/><polyline points="3.0,75.7 0.5,77.9 3.0,80.2" fill="none" stroke="#000" stroke-width="1.05"/><circle cx="11.1" cy="92.2" r="1.0" fill="#000"/><polyline points="3.0,98.3 0.5,100.5 3.0,102.7" fill="none" stroke="#000" stroke-width="1.05"/><rect x="5.0" y="106.25" width="14.2" height="1.5" fill="#000"/><polyline points="5.3,111.9 11.4,114.8 17.8,111.9" fill="none" stroke="#000" stroke-width="1.1"/></g></svg></body></html>
